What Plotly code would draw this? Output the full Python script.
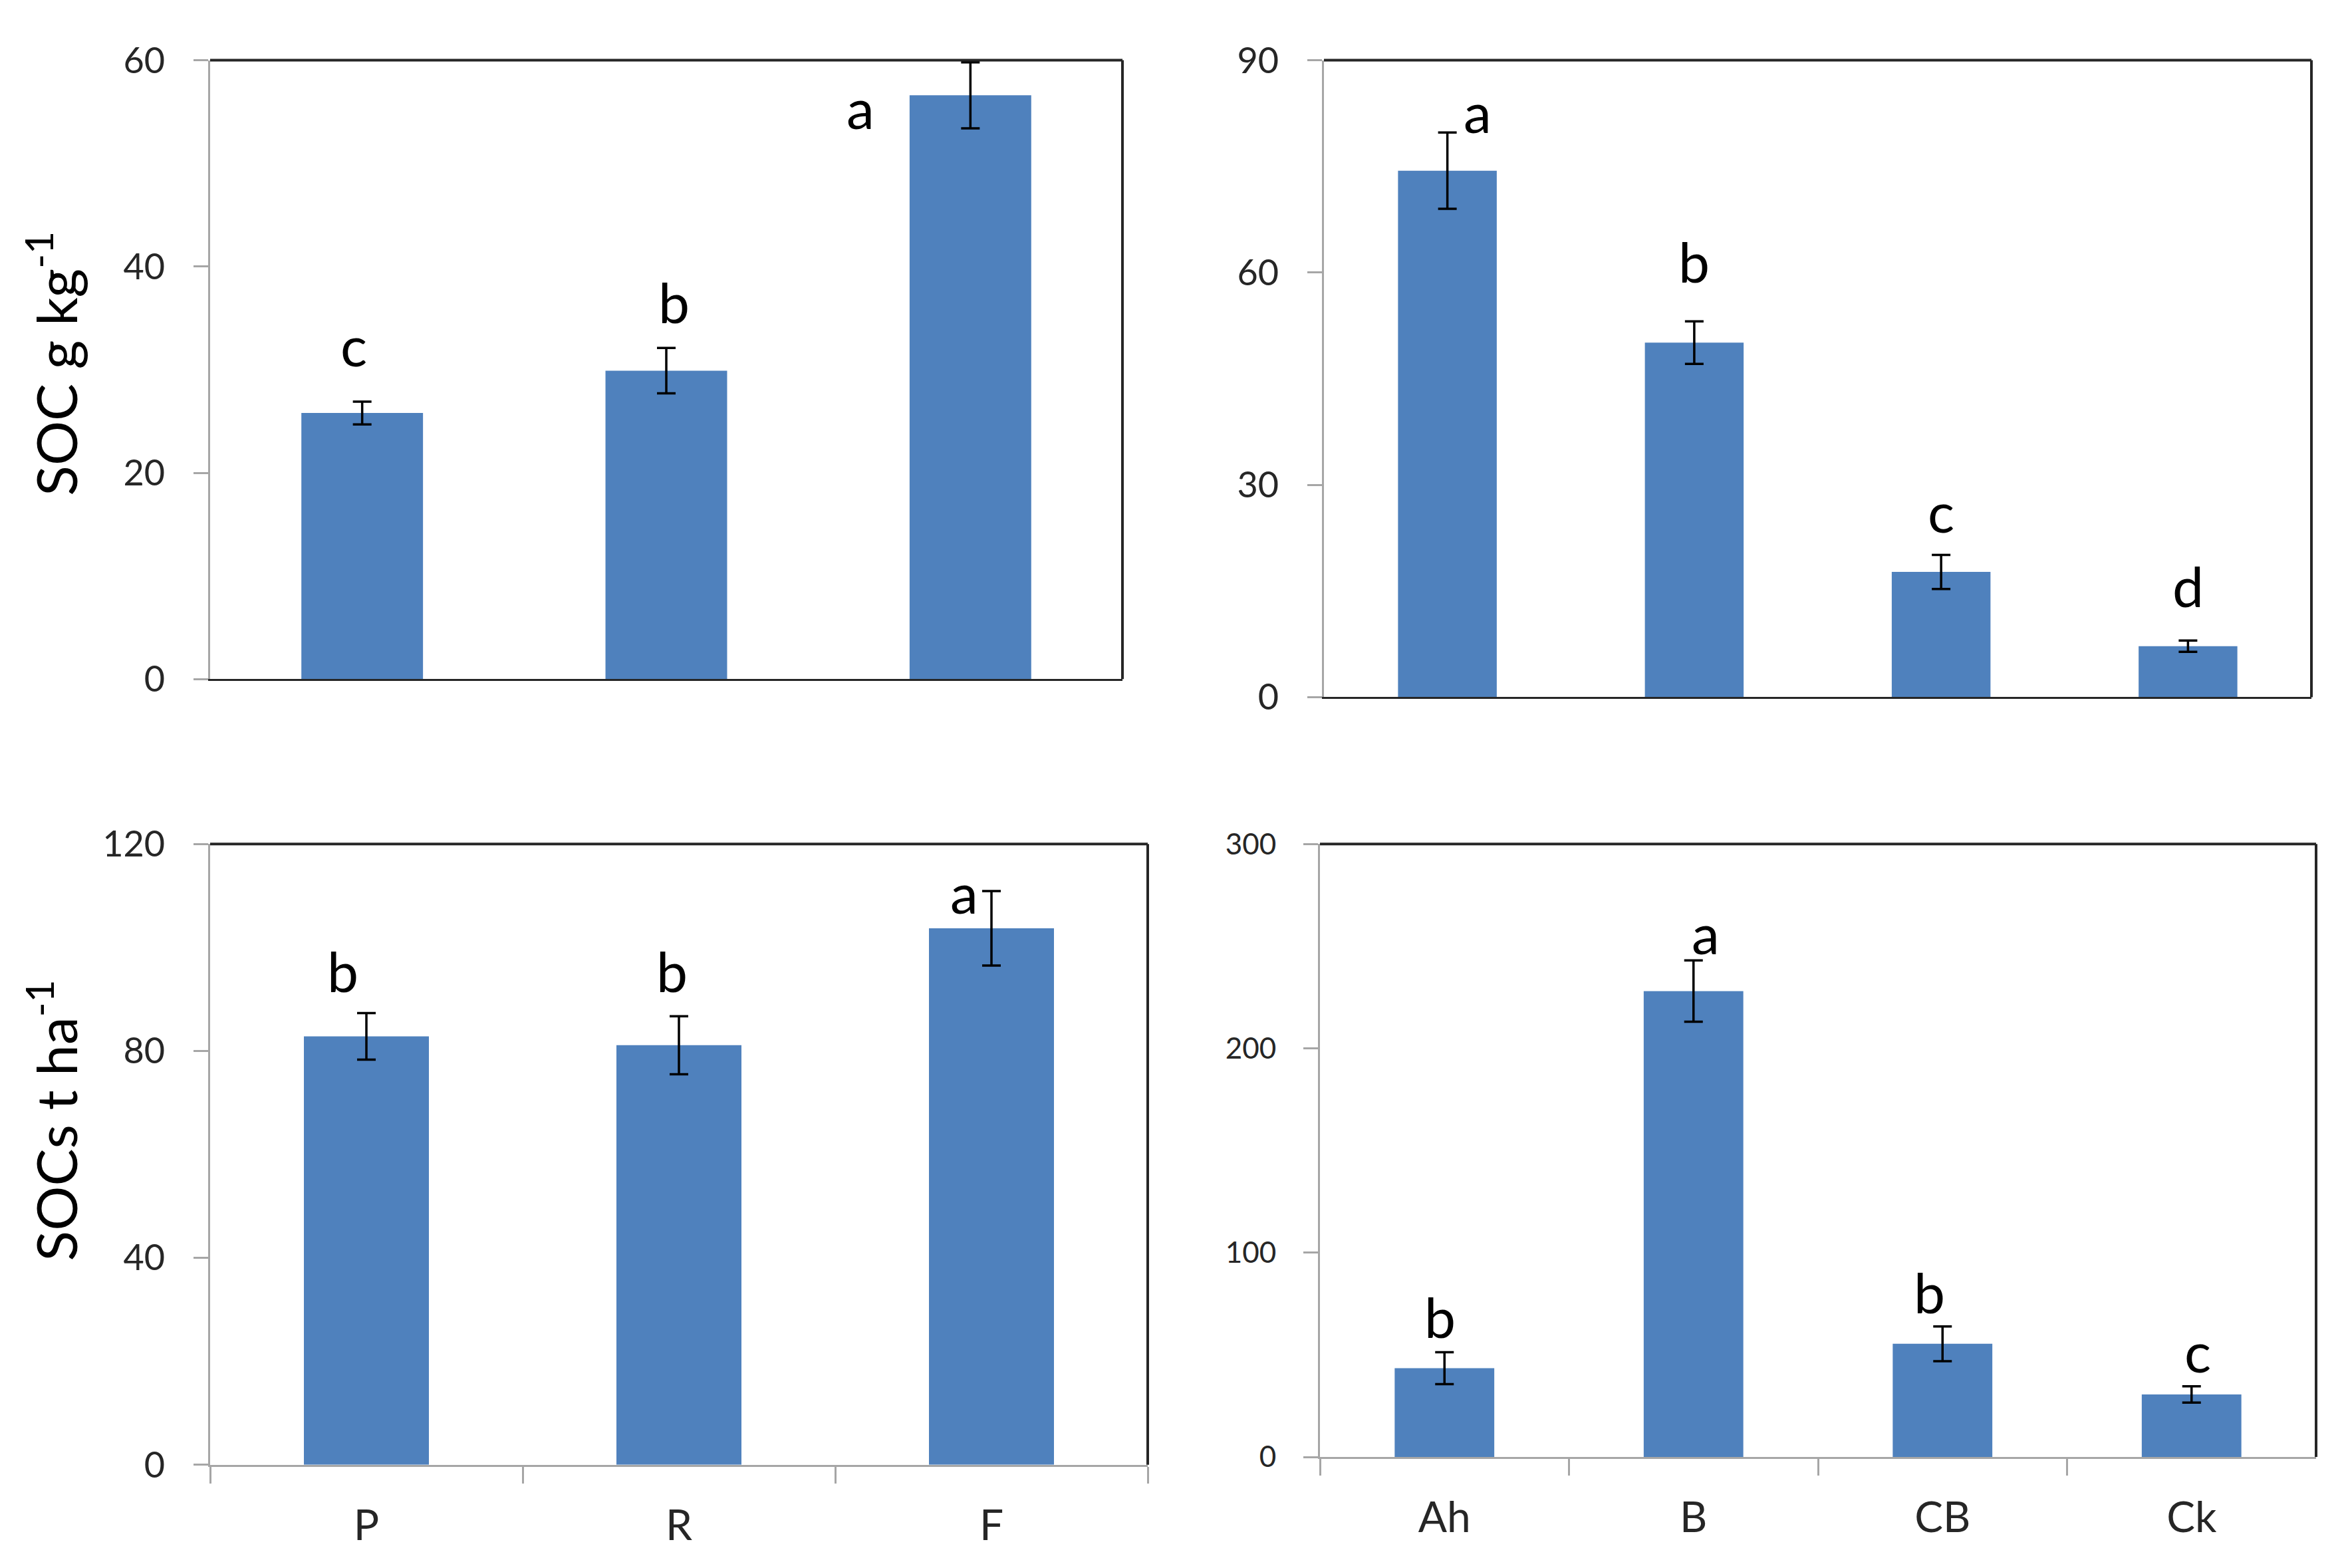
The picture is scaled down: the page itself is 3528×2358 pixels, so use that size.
import plotly.graph_objects as go

# ---- data ----
land_use = ["P", "R", "F"]
horizons = ["Ah", "B", "CB", "Ck"]

soc_land = [25.8, 29.9, 56.6]
soc_land_err = [1.1, 2.2, 3.2]
soc_land_letters = ["c", "b", "a"]

soc_hor = [74.4, 50.1, 17.7, 7.2]
soc_hor_err = [5.4, 3.0, 2.4, 0.8]
soc_hor_letters = ["a", "b", "c", "d"]

socs_land = [82.8, 81.1, 103.7]
socs_land_err = [4.5, 5.6, 7.2]
socs_land_letters = ["b", "b", "a"]

socs_hor = [43.5, 228.0, 55.4, 30.6]
socs_hor_err = [7.8, 15.0, 8.5, 4.0]
socs_hor_letters = ["b", "a", "b", "c"]

ytick_soc_land = [0, 20, 40, 60]
ytick_soc_hor = [0, 30, 60, 90]
ytick_socs_land = [0, 40, 80, 120]
ytick_socs_hor = [0, 100, 200, 300]

# ---- style / layout ----
W, H = 3528, 2358
BAR = "#4F81BD"
AXC = "#A6A6A6"
FONT = "Lato"
TICKC = "#262626"

# letter annotation placement (y in data units, x shift in px)
letter_pos = {
    1: ([32.4, 36.6, 55.4], [-13, 11, -165]),
    2: ([82.8, 61.6, 26.3, 15.8], [45, 0, 0, 0]),
    3: ([95.5, 95.5, 110.7], [-36, -11, -41]),
    4: ([69.0, 256.6, 81.0, 51.9], [-7, 18, -20, 9]),
}

panels = [
    # idx, cats, vals, errs, letters, yticks, x px (left, right), y px (top, bottom), bottom?, tick font
    (1, land_use, soc_land, soc_land_err, soc_land_letters, ytick_soc_land,
     (308, 1680), (50, 1007), False, 54),
    (2, horizons, soc_hor, soc_hor_err, soc_hor_letters, ytick_soc_hor,
     (1983, 3468), (50, 1035), False, 54),
    (3, land_use, socs_land, socs_land_err, socs_land_letters, ytick_socs_land,
     (308, 1718), (1262, 2222), True, 54),
    (4, horizons, socs_hor, socs_hor_err, socs_hor_letters, ytick_socs_hor,
     (1977, 3475), (1262, 2210), True, 44),
]

fig = go.Figure()
layout = dict(
    width=W, height=H,
    margin=dict(l=0, r=0, t=0, b=0),
    paper_bgcolor="white", plot_bgcolor="white",
    showlegend=False, bargap=0.6,
    font=dict(family=FONT, color=TICKC),
)
annotations = []
shapes = []

for idx, cats, vals, errs, letters, yticks, xpx, ypx, bottom, tfs in panels:
    sfx = "" if idx == 1 else str(idx)
    xa, ya = "x" + sfx, "y" + sfx
    fig.add_trace(go.Bar(
        x=cats, y=vals, xaxis=xa, yaxis=ya,
        marker=dict(color=BAR, line=dict(width=0)),
        error_y=dict(type="data", array=errs, visible=True,
                     color="black", thickness=3.5, width=14),
    ))
    xaxis = dict(
        domain=[xpx[0] / W, xpx[1] / W], anchor=ya, type="category",
        range=[-0.5, len(cats) - 0.5],
        showgrid=False, zeroline=False,
        showline=True, linewidth=3,
        linecolor=AXC if bottom else "#262626",
        fixedrange=True,
    )
    if bottom:
        xaxis.update(showticklabels=True, ticks="outside", tickson="boundaries",
                     ticklen=25, tickwidth=3, tickcolor=AXC,
                     tickfont=dict(family=FONT, size=64, color=TICKC),
                     ticklabelstandoff=33)
    else:
        xaxis.update(showticklabels=False, ticks="")
    yaxis = dict(
        domain=[1 - ypx[1] / H, 1 - ypx[0] / H], anchor=xa,
        range=[yticks[0], yticks[-1]],
        tickvals=yticks, ticktext=[str(t) for t in yticks],
        showgrid=False, zeroline=False,
        showline=True, linewidth=3, linecolor=AXC,
        ticks="outside", ticklen=22, tickwidth=3, tickcolor=AXC,
        tickfont=dict(family=FONT, size=tfs, color=TICKC),
        ticklabelstandoff=32,
        fixedrange=True,
    )
    layout["xaxis" + sfx] = xaxis
    layout["yaxis" + sfx] = yaxis

    # dark frame lines: top and right
    shapes.append(dict(type="line", xref=xa + " domain", yref=ya + " domain",
                       x0=0, x1=1, y0=1, y1=1,
                       line=dict(color="#262626", width=4)))
    shapes.append(dict(type="line", xref=xa + " domain", yref=ya + " domain",
                       x0=1, x1=1, y0=0, y1=1,
                       line=dict(color="#262626", width=4)))

    ys, dxs = letter_pos[idx]
    for c, lt, yy, dx in zip(cats, letters, ys, dxs):
        annotations.append(dict(
            x=c, y=yy, xref=xa, yref=ya, text=lt, showarrow=False,
            xshift=dx, xanchor="center", yanchor="middle",
            font=dict(family=FONT, size=84, color="black"),
        ))

# y-axis titles
annotations.append(dict(
    x=70 / W, y=1 - 519 / H, xref="paper", yref="paper",
    text="SOC g kg<sup>-1</sup>", textangle=-90, showarrow=False,
    xanchor="center", yanchor="middle",
    font=dict(family=FONT, size=84, color="black"),
))
annotations.append(dict(
    x=70 / W, y=1 - 1690 / H, xref="paper", yref="paper",
    text="SOCs t ha<sup>-1</sup>", textangle=-90, showarrow=False,
    xanchor="center", yanchor="middle",
    font=dict(family=FONT, size=84, color="black"),
))

layout["annotations"] = annotations
layout["shapes"] = shapes
fig.update_layout(**layout)
fig.write_html("out.html")
